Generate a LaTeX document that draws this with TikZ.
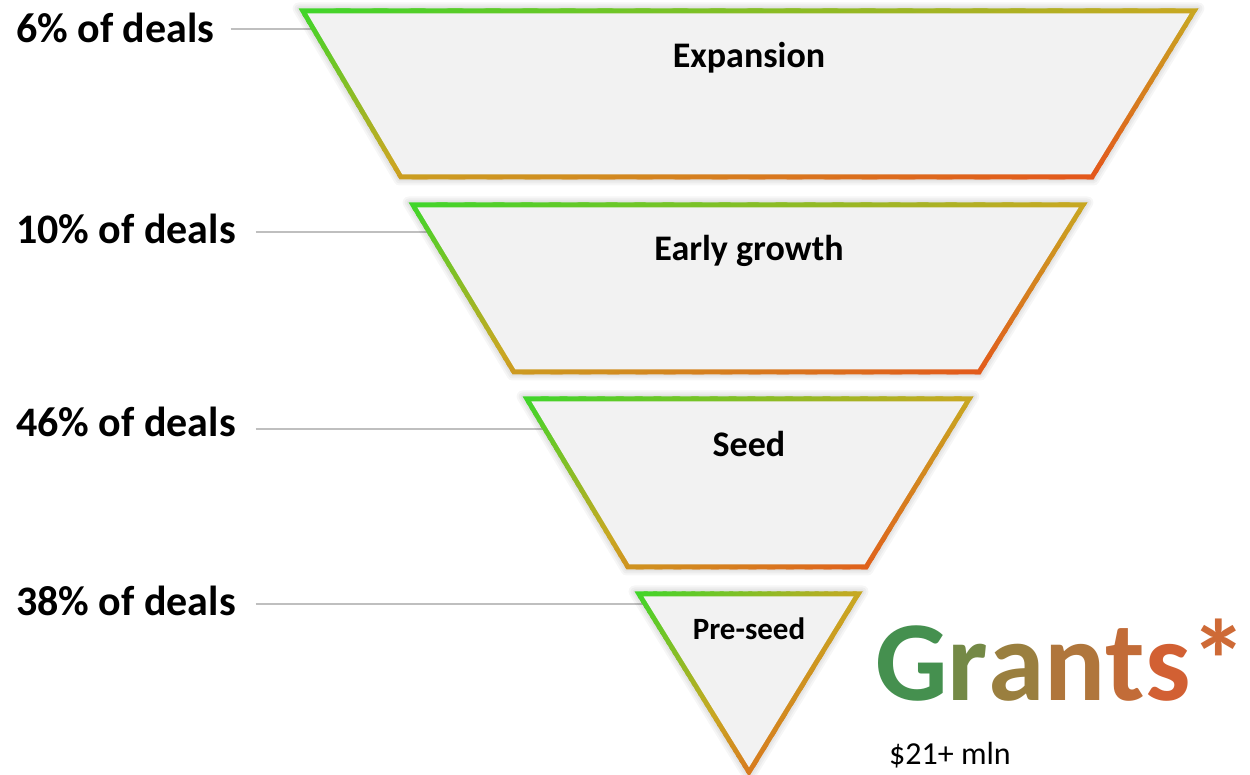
\documentclass[tikz,border=0pt]{standalone}
\usepackage{fontspec}
\setmainfont{Carlito}
\definecolor{gGreen}{HTML}{3ED62A}
\definecolor{gMid}{HTML}{C8A822}
\definecolor{gRed}{HTML}{E84A1A}
\definecolor{fillgray}{HTML}{F2F2F2}
\definecolor{leadgray}{HTML}{BFBFBF}
\definecolor{gr1}{HTML}{45904F}
\definecolor{gr2}{HTML}{748946}
\definecolor{gr3}{HTML}{9A7F3F}
\definecolor{gr4}{HTML}{B0763C}
\definecolor{gr5}{HTML}{C26C38}
\definecolor{gr6}{HTML}{D26033}
\definecolor{gr7}{HTML}{CE6A36}
\tikzset{
  finner/.style={fill=fillgray},
  softshadow/.style={draw=black, opacity=0.035, line join=round},
  leader/.style={draw=leadgray, line width=1.5pt},
  dealslabel/.style={font=\bfseries\fontsize{42}{42}\selectfont, inner sep=0pt, anchor=base west},
  stagetext/.style={font=\bfseries\fontsize{36}{36}\selectfont, inner sep=0pt, anchor=base},
}
% diagonal gradient strips over box (\bx,\by)=top-left, width \bw, height \bh
\newcommand\gradstrips{%
  \foreach \k in {0,...,47}{%
    \pgfmathsetmacro\gca{\k/24}%
    \pgfmathsetmacro\gcb{(\k+1.4)/24}%
    \pgfmathsetmacro\gcm{(\k+0.5)/24}%
    \ifdim\gcm pt<1pt
      \pgfmathsetmacro\gpct{\gcm*100}%
      \colorlet{stripcol}{gMid!\gpct!gGreen}%
    \else
      \pgfmathsetmacro\gpct{(\gcm-1)*100}%
      \colorlet{stripcol}{gRed!\gpct!gMid}%
    \fi
    \fill[stripcol] (\bx+\gca*\bw,\by) -- (\bx+\gcb*\bw,\by) -- (\bx,\by-\gcb*\bh) -- (\bx,\by-\gca*\bh) -- cycle;
  }%
}
% #1 x top-left, #2 x top-right, #3 y top, #4 x bottom-left, #5 x bottom-right, #6 y bottom
\newcommand\funnelpart[6]{%
  \foreach \sw in {4,8,12}{%
    \path[softshadow, line width=\sw pt] (#1-4.4,#3+2.5) -- (#2+4.4,#3+2.5) -- (#5+1.4,#6-2.5) -- (#4-1.4,#6-2.5) -- cycle;
  }%
  \pgfmathsetmacro\bx{#1-4.4}\pgfmathsetmacro\bw{#2-#1+8.8}%
  \pgfmathsetmacro\by{#3+2.5}\pgfmathsetmacro\bh{#3-#6+5}%
  \begin{scope}
    \clip (#1-4.4,#3+2.5) -- (#2+4.4,#3+2.5) -- (#5+1.4,#6-2.5) -- (#4-1.4,#6-2.5) -- cycle;
    \gradstrips
  \end{scope}
  \fill[finner] (#1+4.4,#3-2.5) -- (#2-4.4,#3-2.5) -- (#5-1.4,#6+2.5) -- (#4+1.4,#6+2.5) -- cycle;
}
\begin{document}
\begin{tikzpicture}[x=1pt,y=1pt]
\useasboundingbox (0,0) rectangle (1250,775);
\fill[white] (0,0) rectangle (1250,775);

% labels
\node[dealslabel] (lab1) at (16,732) {6\% of deals};
\node[dealslabel] (lab2) at (16,531) {10\% of deals};
\node[dealslabel] (lab3) at (16,338) {46\% of deals};
\node[dealslabel] (lab4) at (16,159) {38\% of deals};

% leader ends
\coordinate (e1) at (316,746);
\coordinate (e2) at (431,543);
\coordinate (e3) at (547,346);
\coordinate (e4) at (647,171);
\draw[leader, shorten <=16pt] (lab1.east |- e1) -- (e1);
\draw[leader, shorten <=20pt] (lab2.east |- e2) -- (e2);
\draw[leader, shorten <=20pt] (lab3.east |- e3) -- (e3);
\draw[leader, shorten <=20pt] (lab4.east |- e4) -- (e4);

% funnel parts
\funnelpart{303}{1194}{764}{401}{1092}{598}
\funnelpart{413}{1083}{570}{514}{979}{403}
\funnelpart{527}{969}{376}{628}{866}{208}
% pre-seed triangle
\foreach \sw in {4,8,12}{%
  \path[softshadow, line width=\sw pt] (639-4.5,183.5) -- (858+4.5,183.5) -- (749,3-4.75) -- cycle;
}
\pgfmathsetmacro\bx{634.5}\pgfmathsetmacro\bw{228}%
\pgfmathsetmacro\by{183.5}\pgfmathsetmacro\bh{185.25}%
\begin{scope}
  \clip (639-4.5,183.5) -- (858+4.5,183.5) -- (749,3-4.75) -- cycle;
  \gradstrips
\end{scope}
\fill[finner] (639+4.5,178.5) -- (858-4.5,178.5) -- (749,3+4.75) -- cycle;

% stage texts
\node[stagetext] (t1) at (749,707) {Expansion};
\node[stagetext] (t2) at (749,514) {Early growth};
\node[stagetext] (t3) at (749,318) {Seed};
\node[stagetext, font=\bfseries\fontsize{31}{31}\selectfont] (t4) at (749,135) {Pre-seed};

% Grants
\node[inner sep=0pt, anchor=base west, font=\bfseries\fontsize{114}{114}\selectfont] (grants) at (875,74)
  {\textcolor{gr1}{G}\textcolor{gr2}{r}\textcolor{gr3}{a}\textcolor{gr4}{n}\textcolor{gr5}{t}\textcolor{gr6}{s}\textcolor{gr7}{*}};
\node[inner sep=0pt, anchor=base west, font=\fontsize{32}{32}\selectfont] (amount) at (889,10) {\$21+ mln};
\end{tikzpicture}
\end{document}
